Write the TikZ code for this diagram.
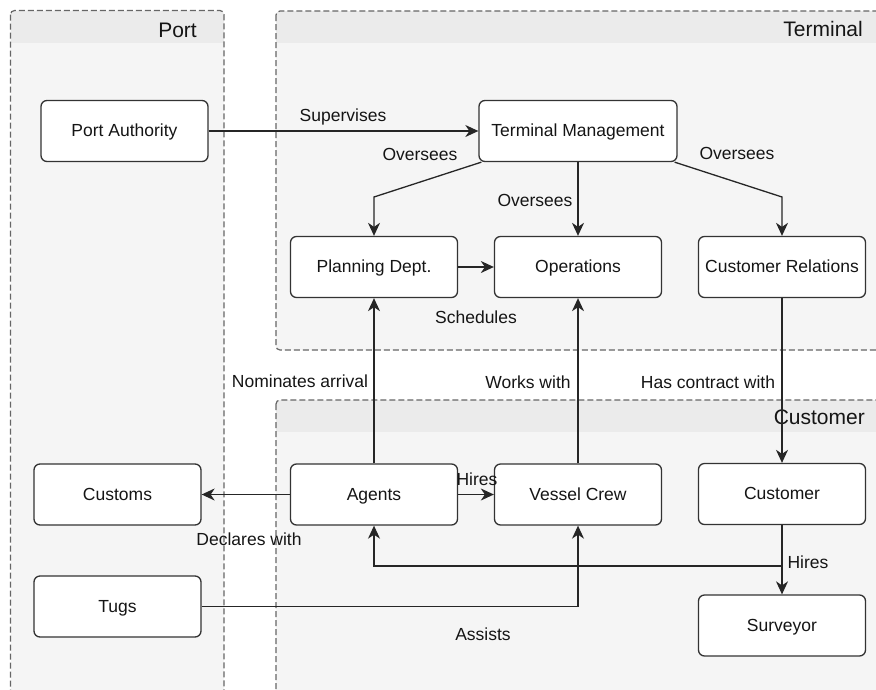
\documentclass[tikz,border=0pt]{standalone}
\usepackage{fontspec}
\setmainfont{Liberation Sans}
\usetikzlibrary{arrows.meta}

\definecolor{lanehdr}{HTML}{EBEBEB}
\definecolor{lanebody}{HTML}{F5F5F5}
\definecolor{laneline}{HTML}{666666}
\definecolor{boxline}{HTML}{333333}
\definecolor{edgeline}{HTML}{262626}
\definecolor{txt}{HTML}{151515}

\begin{document}
\begin{tikzpicture}[x=1pt,y=-1pt,
  box/.style={draw=boxline, fill=white, rounded corners=6pt, line width=1.3pt,
    minimum width=167pt, minimum height=61pt, inner sep=0pt, text=txt,
    text height=12.5pt, text depth=1pt,
    font=\fontsize{17.5}{21}\selectfont},
  lbl/.style={inner sep=0pt, text=txt, text height=12.5pt, text depth=0pt,
    font=\fontsize{17.5}{21}\selectfont},
  lanetitle/.style={inner sep=0pt, text=txt, anchor=east, text height=15pt,
    text depth=0pt, font=\fontsize{21}{25}\selectfont},
  edge/.style={draw=edgeline, line width=1.3pt,
    -{Stealth[length=13pt,width=12pt,inset=4pt]}},
  laneborder/.style={draw=laneline, line width=1.2pt, dash pattern=on 6pt off 3pt,
    rounded corners=4pt}
]
\useasboundingbox (0,0) rectangle (876,689);
\clip (0,0) rectangle (876,689);

% swimlane: Port
\fill[lanehdr, rounded corners=4pt] (10.5,10.5) rectangle (224,60);
\fill[lanebody] (10.5,43) rectangle (224,700);
\draw[laneborder] (10.5,10.5) rectangle (224,700);
\node[lanetitle] (portT) at (197,30) {Port};

% swimlane: Terminal
\fill[lanehdr, rounded corners=4pt] (276,11) rectangle (900,60);
\fill[lanebody, rounded corners=4pt] (276,43) rectangle (900,350);
\fill[lanebody] (276,43) rectangle (900,300);
\draw[laneborder] (276,11) rectangle (900,350);
\node[lanetitle] (termT) at (863,29) {Terminal};

% swimlane: Customer
\fill[lanehdr, rounded corners=4pt] (276,400) rectangle (900,450);
\fill[lanebody] (276,432) rectangle (900,700);
\draw[laneborder] (276,400) rectangle (900,700);
\node[lanetitle] (custT) at (865,417) {Customer};

% actors
\node[box] (pa) at (124.5,131) {Port Authority};
\node[box, minimum width=198pt] (tm) at (578,131) {Terminal Management};
\node[box] (plan) at (374,267) {Planning Dept.};
\node[box] (ops) at (578,267) {Operations};
\node[box] (cr) at (782,267) {Customer Relations};
\node[box] (customs) at (117.5,494.5) {Customs};
\node[box] (tugs) at (117.5,606.5) {Tugs};
\node[box] (agents) at (374,494.5) {Agents};
\node[box] (crew) at (578,494.5) {Vessel Crew};
\node[box] (cust) at (782,494) {Customer};
\node[box] (surv) at (782,625.5) {Surveyor};

% bend points
\coordinate (k1) at (374,197);
\coordinate (k2) at (782,197);
\coordinate (k3) at (782,566);

% relations
\draw[edge] (pa) -- (tm);
\draw[edge] ([xshift=3pt]tm.south west) -- (k1) -- (plan.north);
\draw[edge] (tm.south) -- (ops.north);
\draw[edge] ([xshift=-3pt]tm.south east) -- (k2) -- (cr.north);
\draw[edge] (plan) -- (ops);
\draw[edge] (agents) -- (plan);
\draw[edge] (crew) -- (ops);
\draw[edge] (cr) -- (cust);
\draw[edge] (agents) -- (customs);
\draw[edge] (agents) -- (crew);
\draw[edge] (cust) -- (surv);
\draw[edge] (cust.south) -- (k3) -| (agents.south);
\draw[edge] (tugs.east) -| (crew.south);

% relation labels
\node[lbl] (l1) at (343,115) {Supervises};
\node[lbl] (l2) at (420,154) {Oversees};
\node[lbl] (l3) at (535,200) {Oversees};
\node[lbl] (l4) at (737,153) {Oversees};
\node[lbl] (l5) at (476,317) {Schedules};
\node[lbl] (l6) at (300,381) {Nominates arrival};
\node[lbl] (l7) at (528,382) {Works with};
\node[lbl] (l8) at (708,382) {Has contract with};
\node[lbl] (l9) at (249,539) {Declares with};
\node[lbl] (l10) at (477,479) {Hires};
\node[lbl] (l11) at (808,562) {Hires};
\node[lbl] (l12) at (483,634) {Assists};
\end{tikzpicture}
\end{document}
